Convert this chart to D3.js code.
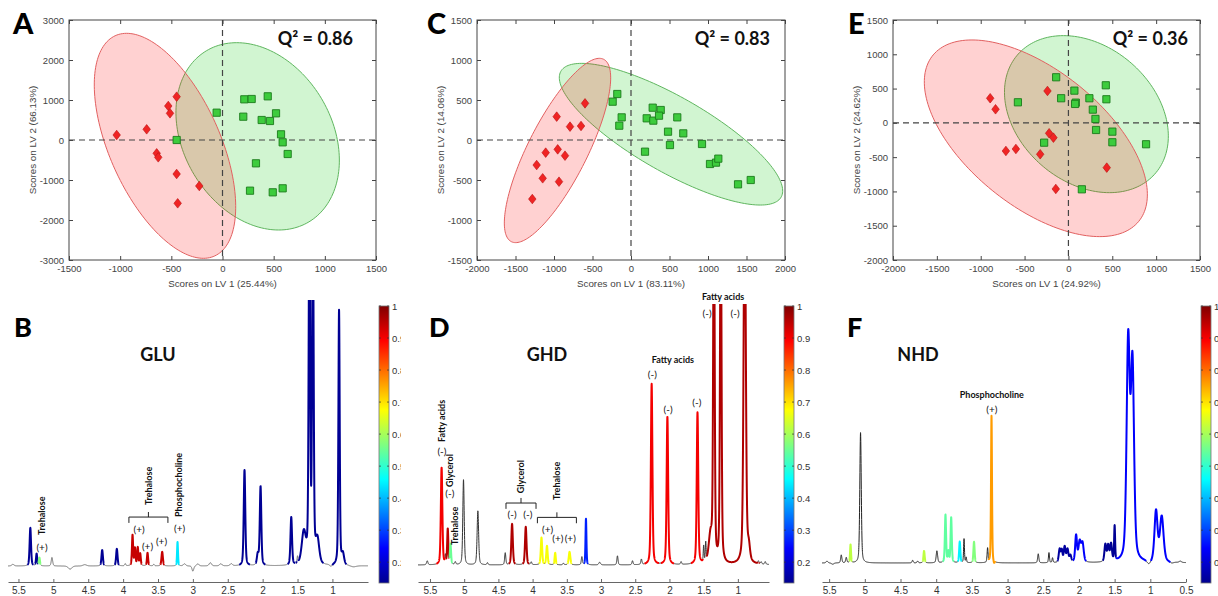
<!DOCTYPE html>
<html><head><meta charset="utf-8">
<script src="https://cdn.jsdelivr.net/npm/d3@7"></script>
<style>
html,body{margin:0;padding:0;background:#fff;overflow:hidden}
svg{display:block}
.tk text{font-family:"Liberation Sans",Arial,sans-serif;font-size:9.5px;fill:#444}
.tk line{stroke:#444}
.ax text{font-family:"Liberation Sans",Arial,sans-serif;font-size:10px;fill:#333}
.ax line,.ax path{stroke:#666}
</style></head><body>
<svg id="chart" width="1218" height="596"></svg>
<script>
// ================= DATA =================
// Panel A (GLU scores)
const aRed=[[-1034,125],[-741,267],[-530,850],[-513,667],[-448,1083],[-643,-333],[-628,-433],[-448,-850],[-438,-1583],[-227,-1150]];
const aGreen=[[-448,0],[-57,683],[213,1017],[285,1025],[442,1092],[203,583],[383,500],[464,475],[523,667],[572,142],[588,-58],[637,-350],[327,-583],[269,-1267],[491,-1308],[588,-1208]];
const aEllRed=[-1253,129,-2958,2667,-937];     // xmin,xmax,ymin,ymax,x at top
const aEllGreen=[-455,1142,-2250,2433,139];
const aXTicks=[-1500,-1000,-500,0,500,1000,1500];
const aYTicks=[-3000,-2000,-1000,0,1000,2000,3000];
// Panel C (GHD scores)
const cRed=[[-597,458],[-965,292],[-792,167],[-649,175],[-1108,-158],[-952,-117],[-857,-196],[-1225,-313],[-1147,-479],[-935,-521],[-1282,-738]];
const cGreen=[[-178,575],[-238,479],[-121,283],[-152,179],[282,404],[386,375],[204,271],[290,242],[364,304],[601,283],[481,104],[679,83],[506,-63],[922,-50],[182,-146],[1026,-300],[1104,-283],[1134,-233],[1390,-554],[1555,-500]];
const cEllRed=[-1645,-264,-1283,1021,-411];
const cEllGreen=[-931,1970,-813,958,-640];
const cXTicks=[-2000,-1500,-1000,-500,0,500,1000,1500,2000];
const cYTicks=[-1500,-1000,-500,0,500,1000,1500];
// Panel E (NHD scores)
const eRed=[[-892,359],[-831,198],[-239,465],[-220,-152],[-171,-216],[-713,-410],[-599,-381],[-322,-458],[437,-653],[-144,-964]];
const eGreen=[[-140,665],[-576,300],[-83,359],[68,470],[84,295],[76,276],[239,359],[426,548],[433,344],[278,193],[308,57],[315,-104],[501,-128],[501,-283],[-277,-289],[885,-312],[153,-969]];
const eEllRed=[-1643,900,-1659,1209,-1100];
const eEllGreen=[-729,1139,-1018,1272,-57];
const eXTicks=[-2000,-1500,-1000,-500,0,500,1000,1500];
const eYTicks=[-2000,-1500,-1000,-500,0,500,1000,1500];

// Spectra peaks: [ppm, intensity, half-width (ppm), correlation (null = not significant)]
const bPeaks=[
[5.58,0.6,0.02,null],[5.33,14.3,0.012,0.14],[5.24,4.5,0.01,0.14],[5.20,3.0,0.01,0.57],[5.02,3.2,0.012,null],
[4.76,-1.2,0.03,null],[4.55,0.5,0.03,null],[4.30,6.0,0.012,0.14],[4.09,6.4,0.012,0.14],[3.97,0.8,0.01,null],
[3.865,11.5,0.01,0.94],[3.83,6.5,0.01,0.94],[3.79,6.8,0.01,0.94],[3.755,4.5,0.01,0.94],[3.65,4.9,0.01,0.94],
[3.56,0.6,0.01,null],[3.44,5.3,0.012,0.94],[3.22,9,0.008,0.44],[3.12,0.8,0.02,null],[3.00,-2.0,0.015,null],
[2.93,0.8,0.02,null],[2.75,1.2,0.02,null],[2.60,0.8,0.02,null],[2.45,0.8,0.02,null],[2.26,36,0.013,0.14],
[2.07,4,0.015,0.14],[2.03,29.7,0.013,0.14],[1.59,18,0.013,0.14],[1.50,2.5,0.008,null],[1.41,12,0.035,0.14],
[1.33,140,0.012,0.14],[1.28,140,0.012,0.14],[1.215,9,0.03,0.14],[1.02,-0.8,0.02,null],[0.905,96,0.011,0.14],
[0.85,4,0.02,0.14],[0.70,-0.5,0.05,null]];
const dPeaks=[
[5.54,1.5,0.012,null],[5.33,36.5,0.013,0.9],[5.275,3,0.008,null],[5.24,13.2,0.01,0.95],[5.20,7.5,0.01,0.55],
[5.13,1,0.01,null],[5.01,32,0.012,null],[4.80,20.3,0.013,null],[4.66,0.8,0.01,null],[4.40,4.5,0.01,null],
[4.30,15.4,0.013,0.96],[4.10,14.3,0.013,0.96],[4.02,1,0.01,null],[3.87,10.2,0.012,0.67],[3.79,7.1,0.012,0.67],
[3.67,4.5,0.01,0.67],[3.55,0.6,0.01,null],[3.46,4.9,0.014,0.67],[3.28,3,0.01,null],[3.22,17.3,0.008,0.27],
[3.02,1,0.015,null],[2.76,3.4,0.01,null],[2.54,1.5,0.01,null],[2.41,2,0.01,null],[2.26,68,0.013,0.9],
[2.03,55.6,0.013,0.9],[1.83,1,0.01,null],[1.59,57,0.013,0.9],[1.50,6,0.007,null],[1.47,7,0.007,null],
[1.40,10,0.03,0.96],[1.35,150,0.012,0.96],[1.25,150,0.012,0.96],[0.90,150,0.018,0.96],[0.84,5,0.02,0.96],
[0.70,1,0.01,null],[0.66,0.8,0.01,null],[0.60,1,0.01,null]];
const fPeaks=[
[5.53,0.7,0.015,null],[5.45,-0.5,0.02,null],[5.33,3,0.01,null],[5.26,2,0.01,null],[5.20,6.8,0.008,0.62],
[5.06,49,0.012,null],[4.33,1,0.01,null],[4.26,0.7,0.01,null],[4.17,4.5,0.01,0.62],[3.99,4.5,0.012,null],
[3.87,18,0.01,0.54],[3.83,4,0.01,0.54],[3.79,17,0.01,0.54],[3.67,7.9,0.01,0.45],[3.61,9,0.007,null],
[3.58,2,0.007,null],[3.47,7.9,0.01,0.57],[3.28,5.3,0.008,null],[3.225,55.3,0.008,0.76],[3.19,-1,0.01,null],
[2.57,3.4,0.01,null],[2.42,3.8,0.008,null],[2.37,1.8,0.008,null],[2.27,5,0.015,0.15],[2.24,4.3,0.012,0.15],
[2.20,5.8,0.015,0.15],[2.16,4.8,0.015,0.15],[2.12,2.5,0.015,0.15],[2.04,10,0.015,0.24],[1.99,7.5,0.02,0.24],
[1.95,7,0.02,0.24],[1.63,6.5,0.015,0.14],[1.59,6,0.015,0.14],[1.55,6.5,0.015,0.14],[1.50,13,0.008,0.14],
[1.31,82,0.026,0.24],[1.25,73,0.026,0.24],[1.02,-1.5,0.03,null],[0.92,19,0.025,0.24],[0.84,17,0.03,0.24],
[0.70,-0.5,0.03,null],[0.58,0.5,0.02,null]];
const bTicks=[5.5,5,4.5,4,3.5,3,2.5,2,1.5,1];
const dTicks=[5.5,5,4.5,4,3.5,3,2.5,2,1.5,1];
const fTicks=[5.5,5,4.5,4,3.5,3,2.5,2,1.5,1,0.5];
// annotations: [text, ppm, intensity, rotated, bold]
const bLabels=[["Trehalose",5.163,11.7,1,1],["(+)",5.163,7.1,0,0],["Trehalose",3.63,22.9,1,1],["(+)",3.77,13.9,0,0],["(+)",3.65,7.5,0,0],["(+)",3.45,9.4,0,0],["Phosphocholine",3.20,18.4,1,1],["(+)",3.19,14.3,0,0]];
const bBrackets=[[3.917,3.358,18.4]];
const dLabels=[["Fatty acids",1.216,101.1,0,1],["(-)",1.45,94.7,0,0],["(-)",1.04,94.7,0,0],["Fatty acids",1.95,77.4,0,1],["(-)",2.25,71.8,0,0],["(-)",2.02,58.6,0,0],["(-)",1.60,61.3,0,0],
["Fatty acids",5.325,46.2,1,1],["(-)",5.325,42.9,0,0],["Glycerol",5.21,29.3,1,1],["(-)",5.21,27.1,0,0],["Trehalose",5.135,7.5,1,1],
["Glycerol",4.184,27,1,1],["(-)",4.30,19.1,0,0],["(-)",4.07,19.1,0,0],["Trehalose",3.648,24.4,1,1],["(+)",3.78,13.6,0,0],["(+)",3.63,10,0,0],["(+)",3.45,10,0,0]];
const dBrackets=[[4.389,3.95,23.3],[3.93,3.36,17.9]];
const fLabels=[["Phosphocholine",3.22,63.5,0,1],["(+)",3.22,57.9,0,0]];
const fBrackets=[];
const cbTicks=[0.2,0.3,0.4,0.5,0.6,0.7,0.8,0.9,1];
const CMIN=0.135;

// ================= DRAW =================
const svg=d3.select("#chart");
const defs=svg.append("defs");
const jetT=[0,1/8,3/8,5/8,7/8,1];
const jetC=["#00008f","#0000ff","#00ffff","#ffff00","#ff0000","#800000"];
const jet=d3.scaleLinear().domain(jetT.map(t=>CMIN+t*(1-CMIN))).range(jetC).clamp(true);
const grad=defs.append("linearGradient").attr("id","jet").attr("x1",0).attr("y1",1).attr("x2",0).attr("y2",0);
jetT.forEach((t,i)=>grad.append("stop").attr("offset",t).attr("stop-color",jetC[i]));

// MATLAB-like diamond marker (wider than d3.symbolDiamond)
const wideDiamond={draw(ctx,size){const r=Math.sqrt(size)*0.62;const w=r*0.78;ctx.moveTo(0,-r);ctx.lineTo(w,0);ctx.lineTo(0,r);ctx.lineTo(-w,0);ctx.closePath();}};

function ellPts(e){
  const [x0,x1,y0,y1,xt]=e;
  const cx=(x0+x1)/2,cy=(y0+y1)/2,hx=(x1-x0)/2,hy=(y1-y0)/2,ax=xt-cx,bx=Math.sqrt(Math.max(0,hx*hx-ax*ax));
  return d3.range(0,360,2).map(a=>{const t=a*Math.PI/180;return [cx+ax*Math.cos(t)+bx*Math.sin(t),cy+hy*Math.cos(t)];});
}

function scorePanel(P){
  const x=d3.scaleLinear().domain(P.xd).range(P.box);
  const y=d3.scaleLinear().domain(P.yd).range([260,20]);
  const g=svg.append("g");
  const line=d3.line().x(d=>x(d[0])).y(d=>y(d[1])).curve(d3.curveLinearClosed);
  g.append("path").attr("d",line(ellPts(P.eg))).attr("fill","rgba(0,200,0,0.18)").attr("stroke","#5fb65f").attr("stroke-width",1);
  g.append("path").attr("d",line(ellPts(P.er))).attr("fill","rgba(255,0,0,0.18)").attr("stroke","#e26060").attr("stroke-width",1);
  g.append("line").attr("x1",x(0)).attr("x2",x(0)).attr("y1",20).attr("y2",260).attr("stroke","#444").attr("stroke-width",1.2).attr("stroke-dasharray","6,4");
  g.append("line").attr("x1",P.box[0]).attr("x2",P.box[1]).attr("y1",y(0)).attr("y2",y(0)).attr("stroke","#444").attr("stroke-width",1.2).attr("stroke-dasharray","6,4");
  g.append("g").selectAll("path").data(P.red).join("path")
    .attr("transform",d=>`translate(${x(d[0])},${y(d[1])})`).attr("d",d3.symbol(wideDiamond,60))
    .attr("fill","#f02424").attr("stroke","#b81010").attr("stroke-width",0.6);
  g.append("g").selectAll("path").data(P.green).join("path")
    .attr("transform",d=>`translate(${x(d[0])},${y(d[1])})`).attr("d",d3.symbol(d3.symbolSquare,52))
    .attr("fill","#3dcc3d").attr("stroke","#1b7a1b").attr("stroke-width",0.9);
  const fmt=d=>String(d);
  let a=g.append("g").attr("class","tk").attr("transform","translate(0,260)").call(d3.axisBottom(x).tickValues(P.xt).tickSize(-4).tickSizeOuter(0).tickPadding(5).tickFormat(fmt));
  a.select(".domain").remove();
  a=g.append("g").attr("class","tk").attr("transform","translate(0,20)").call(d3.axisTop(x).tickValues(P.xt).tickSize(-4).tickSizeOuter(0).tickFormat(""));
  a.select(".domain").remove();
  a=g.append("g").attr("class","tk").attr("transform",`translate(${P.box[0]},0)`).call(d3.axisLeft(y).tickValues(P.yt).tickSize(-4).tickSizeOuter(0).tickPadding(5).tickFormat(fmt));
  a.select(".domain").remove();
  a=g.append("g").attr("class","tk").attr("transform",`translate(${P.box[1]},0)`).call(d3.axisRight(y).tickValues(P.yt).tickSize(-4).tickSizeOuter(0).tickFormat(""));
  a.select(".domain").remove();
  g.append("rect").attr("x",P.box[0]).attr("y",20).attr("width",P.box[1]-P.box[0]).attr("height",240).attr("fill","none").attr("stroke","#444").attr("stroke-width",1);
  const mid=(P.box[0]+P.box[1])/2;
  g.append("text").attr("x",mid).attr("y",287).attr("text-anchor","middle").attr("font-family","Liberation Sans, Arial").attr("font-size",9.8).attr("fill","#444").text(P.xl);
  g.append("text").attr("transform",`translate(${P.box[0]-33},140) rotate(-90)`).attr("text-anchor","middle").attr("font-family","Liberation Sans, Arial").attr("font-size",9.8).attr("fill","#444").text(P.yl);
  g.append("text").attr("x",P.qx).attr("y",45).attr("text-anchor","end").attr("font-family","Lato").attr("font-weight","bold").attr("font-size",18).attr("fill","#111").text(P.q);
  g.append("text").attr("x",P.lx).attr("y",34).attr("font-family","Lato").attr("font-weight","900").attr("font-size",29).attr("fill","#000").text(P.id);
}

scorePanel({id:"A",q:"Q² = 0.86",xl:"Scores on LV 1 (25.44%)",yl:"Scores on LV 2 (66.13%)",xd:[-1500,1500],yd:[-3000,3000],xt:aXTicks,yt:aYTicks,red:aRed,green:aGreen,er:aEllRed,eg:aEllGreen,box:[69,376],qx:353,lx:13});
scorePanel({id:"C",q:"Q² = 0.83",xl:"Scores on LV 1 (83.11%)",yl:"Scores on LV 2 (14.06%)",xd:[-2000,2000],yd:[-1500,1500],xt:cXTicks,yt:cYTicks,red:cRed,green:cGreen,er:cEllRed,eg:cEllGreen,box:[477,785],qx:770,lx:427});
scorePanel({id:"E",q:"Q² = 0.36",xl:"Scores on LV 1 (24.92%)",yl:"Scores on LV 2 (24.62%)",xd:[-2000,1500],yd:[-2000,1500],xt:eXTicks,yt:eYTicks,red:eRed,green:eGreen,er:eEllRed,eg:eEllGreen,box:[893,1200],qx:1188,lx:848});

function spectrum(S){
  const x=d3.scaleLinear().domain(S.dom).range(S.rng);
  const y=d3.scaleLinear().domain([0,100]).range([S.base,S.base-266]);
  defs.append("clipPath").attr("id","pc"+S.id).append("rect").attr("x",S.clipX[0]).attr("y",0).attr("width",S.clipX[1]-S.clipX[0]).attr("height",596);
  defs.append("clipPath").attr("id","sc"+S.id).append("rect").attr("x",S.rng[0]-2).attr("y",S.top).attr("width",S.rng[1]-S.rng[0]+4).attr("height",596-S.top);
  const g=svg.append("g").attr("clip-path",`url(#pc${S.id})`);
  // sample the peak table
  const pts=[];
  for(let p=S.dom[0];p>=S.dom[1];p-=0.0012){
    let sum=0,best=null,bv=0;
    for(const pk of S.peaks){const d=(p-pk[0])/pk[2];const v=pk[1]*(0.6*Math.exp(-0.6931*d*d)+0.4/(1+d*d));sum+=v;if(Math.abs(v)>bv){bv=Math.abs(v);best=pk;}}
    pts.push({p,v:sum,c:(best&&best[3]!=null&&bv>0.4)?best[3]:null});
  }
  const runs=[];let cur=null;
  pts.forEach((d,i)=>{if(!cur||cur.c!==d.c){if(cur)cur.pts.push(d);cur={c:d.c,pts:[]};runs.push(cur);}cur.pts.push(d);});
  const line=d3.line().x(d=>x(d.p)).y(d=>y(d.v));
  const sg=g.append("g").attr("clip-path",`url(#sc${S.id})`);
  sg.selectAll("path.b").data(runs.filter(r=>r.c===null)).join("path").attr("class","b").attr("d",r=>line(r.pts)).attr("fill","none").attr("stroke",S.lc).attr("stroke-width",1);
  sg.selectAll("path.c").data(runs.filter(r=>r.c!==null)).join("path").attr("class","c").attr("d",r=>line(r.pts)).attr("fill","none").attr("stroke",r=>jet(r.c)).attr("stroke-width",2).attr("stroke-linejoin","round");
  // axis
  g.append("g").attr("class","ax").attr("transform","translate(0,582)").call(d3.axisBottom(x).tickValues(S.ticks).tickSize(-3).tickSizeOuter(0).tickPadding(5).tickFormat(d=>String(d)));
  // annotations
  S.labels.forEach(L=>{
    const t=g.append("text").attr("font-family","Lato").attr("fill","#111").attr("font-weight",L[4]?"bold":"normal").attr("font-size",L[4]?9:10).text(L[0]);
    if(L[3]) t.attr("transform",`translate(${x(L[1])},${y(L[2])}) rotate(-90)`).attr("dominant-baseline","central");
    else t.attr("x",x(L[1])).attr("y",y(L[2])).attr("text-anchor","middle").attr("dominant-baseline","central");
  });
  S.brackets.forEach(B=>{
    const x0=x(B[0]),x1=x(B[1]),yh=y(B[2]),yd=y(B[2]-2.2),yu=y(B[2]+1.9),xm=(x0+x1)/2;
    g.append("path").attr("d",`M${x0},${yd}V${yh}H${x1}V${yd}M${xm},${yh}V${yu}`).attr("fill","none").attr("stroke","#222").attr("stroke-width",1);
  });
  // colour bar
  const cb=d3.scaleLinear().domain([CMIN,1]).range([583,306]);
  g.append("rect").attr("x",S.cbx).attr("y",cb(1)).attr("width",10).attr("height",cb(CMIN)-cb(1)).attr("fill","url(#jet)").attr("stroke","#777").attr("stroke-width",0.8);
  cbTicks.forEach(v=>{
    g.append("line").attr("x1",S.cbx).attr("x2",S.cbx+2).attr("y1",cb(v)).attr("y2",cb(v)).attr("stroke","#333").attr("stroke-width",0.7);
    g.append("line").attr("x1",S.cbx+8).attr("x2",S.cbx+10).attr("y1",cb(v)).attr("y2",cb(v)).attr("stroke","#333").attr("stroke-width",0.7);
    g.append("text").attr("x",S.cbx+13).attr("y",cb(v)).attr("dominant-baseline","central").attr("font-family","Liberation Sans, Arial").attr("font-size",9.5).attr("fill","#333").text(v===1?"1":v.toFixed(1));
  });
  g.append("text").attr("x",S.tx).attr("y",361).attr("text-anchor","middle").attr("font-family","Lato").attr("font-weight","bold").attr("font-size",18).attr("fill","#111").text(S.title);
  g.append("text").attr("x",S.lx).attr("y",337).attr("font-family","Lato").attr("font-weight","900").attr("font-size",27).attr("fill","#000").text(S.id);
}

spectrum({id:"B",title:"GLU",peaks:bPeaks,ticks:bTicks,labels:bLabels,brackets:bBrackets,dom:[5.65,0.49],rng:[8,368],base:566,top:300,clipX:[0,401],lc:"#6e6e6e",cbx:379,tx:158,lx:14});
spectrum({id:"D",title:"GHD",peaks:dPeaks,ticks:dTicks,labels:dLabels,brackets:dBrackets,dom:[5.675,0.545],rng:[418,769],base:565,top:304,clipX:[401,812],lc:"#333",cbx:784,tx:547,lx:429});
spectrum({id:"F",title:"NHD",peaks:fPeaks,ticks:fTicks,labels:fLabels,brackets:fBrackets,dom:[5.6,0.5],rng:[822,1186],base:563,top:300,clipX:[812,1218],lc:"#222",cbx:1201,tx:918,lx:847});
</script>
</body></html>
